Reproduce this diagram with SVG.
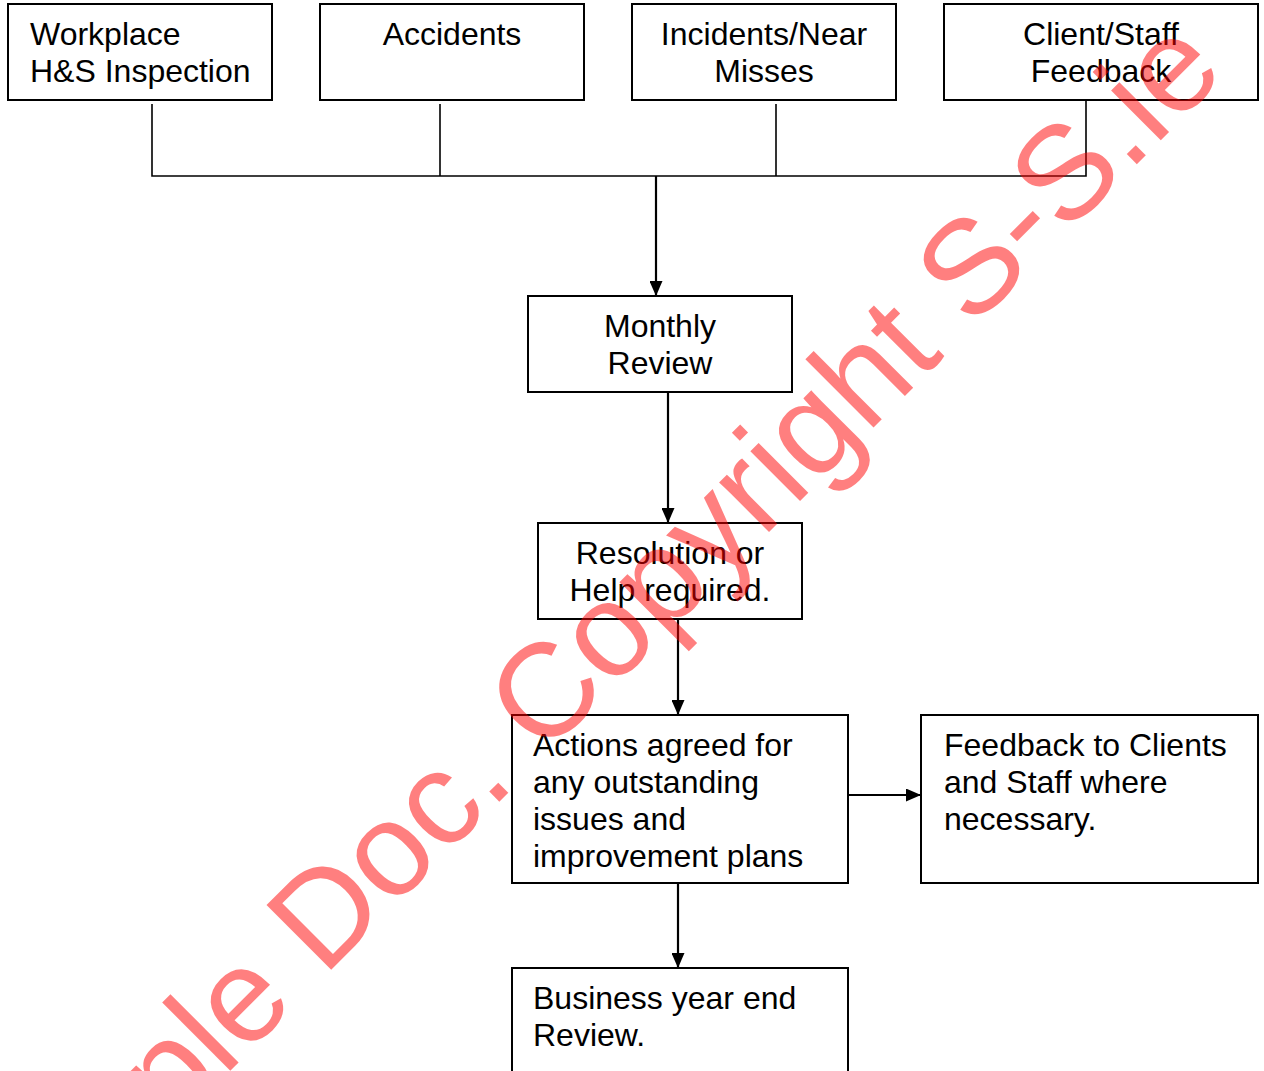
<svg xmlns="http://www.w3.org/2000/svg" width="1264" height="1071" viewBox="0 0 1264 1071">
<defs>
<marker id="ah" markerWidth="15" markerHeight="13" refX="15" refY="6.5" orient="auto" markerUnits="userSpaceOnUse">
<path d="M0,0 L15,6.5 L0,13 Z" fill="#000"/>
</marker>
<style>
.box{fill:none;stroke:#000;stroke-width:2}
.t{font-family:"Liberation Sans",Arial,sans-serif;font-size:32px;fill:#000}
.c{text-anchor:middle}
.ln{fill:none;stroke:#000;stroke-width:1.6}
.ar{fill:none;stroke:#000;stroke-width:2.2;marker-end:url(#ah)}
.wm{font-family:"Liberation Sans",Arial,sans-serif;font-size:133px;fill:#ff0000;fill-opacity:0.5}
</style>
</defs>
<rect width="1264" height="1071" fill="#fff"/>
<g id="connectors">
<polyline class="ln" points="152,104 152,176 1086,176 1086,100"/>
<line class="ln" x1="440" y1="104" x2="440" y2="176"/>
<line class="ln" x1="776" y1="104" x2="776" y2="176"/>
<line class="ar" x1="656" y1="176" x2="656" y2="296"/>
<line class="ar" x1="668" y1="392" x2="668" y2="523"/>
<line class="ar" x1="678" y1="619" x2="678" y2="715"/>
<line class="ar" x1="848" y1="795" x2="921" y2="795"/>
<line class="ar" x1="678" y1="883" x2="678" y2="968"/>
</g>
<g id="n1"><rect class="box" x="8" y="4" width="264" height="96"/>
<text class="t" x="30" y="45">Workplace</text><text class="t" x="30" y="82">H&amp;S Inspection</text></g>
<g id="n2"><rect class="box" x="320" y="4" width="264" height="96"/>
<text class="t c" x="452" y="45">Accidents</text></g>
<g id="n3"><rect class="box" x="632" y="4" width="264" height="96"/>
<text class="t c" x="764" y="45">Incidents/Near</text><text class="t c" x="764" y="82">Misses</text></g>
<g id="n4"><rect class="box" x="944" y="4" width="314" height="96"/>
<text class="t c" x="1101" y="45">Client/Staff</text><text class="t c" x="1101" y="82">Feedback</text></g>
<g id="n5"><rect class="box" x="528" y="296" width="264" height="96"/>
<text class="t c" x="660" y="337">Monthly</text><text class="t c" x="660" y="374">Review</text></g>
<g id="n6"><rect class="box" x="538" y="523" width="264" height="96"/>
<text class="t c" x="670" y="564">Resolution or</text><text class="t c" x="670" y="601">Help required.</text></g>
<g id="n7"><rect class="box" x="512" y="715" width="336" height="168"/>
<text class="t" x="533" y="756">Actions agreed for</text><text class="t" x="533" y="793">any outstanding</text><text class="t" x="533" y="830">issues and</text><text class="t" x="533" y="867">improvement plans</text></g>
<g id="n8"><rect class="box" x="921" y="715" width="337" height="168"/>
<text class="t" x="944" y="756">Feedback to Clients</text><text class="t" x="944" y="793">and Staff where</text><text class="t" x="944" y="830">necessary.</text></g>
<g id="n9"><rect class="box" x="512" y="968" width="336" height="110"/>
<text class="t" x="533" y="1009">Business year end</text><text class="t" x="533" y="1046">Review.</text></g>
<text class="wm" x="603" y="698" text-anchor="middle" transform="rotate(-45 603 698)">Sample Doc. Copyright S-S.ie</text>
</svg>
